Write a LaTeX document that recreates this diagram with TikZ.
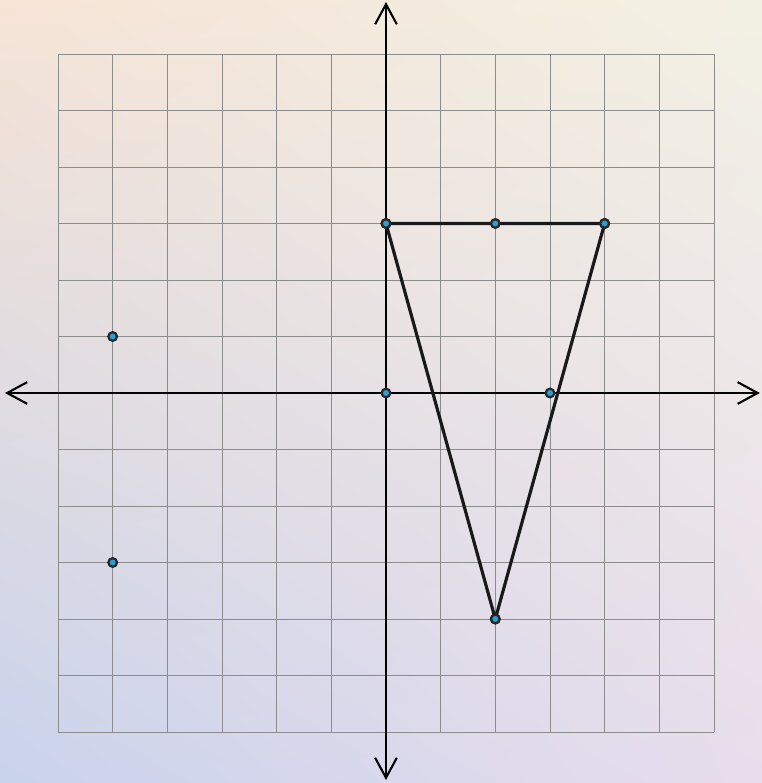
\documentclass[tikz,border=0pt]{standalone}
\usetikzlibrary{arrows.meta,shadings}

\definecolor{bgTL}{HTML}{F6E4D6}
\definecolor{bgTR}{HTML}{F3F1E4}
\definecolor{bgBL}{HTML}{C9D3EC}
\definecolor{bgBR}{HTML}{E8DDEC}
\definecolor{dotblue}{HTML}{2A9FD6}

\tikzset{
  gridline/.style={gray!90,line width=0.6pt},
  axisline/.style={line width=2.2pt,{Straight Barb[length=6mm,width=6.5mm,line width=1.8pt]}-{Straight Barb[length=6mm,width=6.5mm,line width=1.8pt]}},
  edge/.style={line width=2.7pt,line cap=round,line join=round,black!90},
  pt/.style={circle,draw=black!85,line width=1.9pt,fill=dotblue,inner sep=0pt,minimum size=7.4pt}
}

\begin{document}
\begin{tikzpicture}[x=1.64cm,y=1.695cm]
  % Фон и рамка рисунка
  \useasboundingbox (-7.061,-6.903) rectangle (6.878,6.956);
  \shade[upper left=bgTL,upper right=bgTR,lower left=bgBL,lower right=bgBR]
    (-7.061,-6.903) rectangle (6.878,6.956);

  % Сетка
  \foreach \i in {-6,...,6} {
    \draw[gridline] (\i,-6) -- (\i,6);
    \draw[gridline] (-6,\i) -- (6,\i);
  }

  % Оси координат
  \draw[axisline] (-6.97,0) -- (6.84,0);
  \draw[axisline] (0,-6.85) -- (0,6.92);

  % Вершины треугольника
  \node[pt] (A) at (0,3) {};
  \node[pt] (B) at (4,3) {};
  \node[pt] (C) at (2,-4) {};

  % Стороны треугольника
  \draw[edge] (A.center) -- (B.center) -- (C.center) -- cycle;
  \node[pt] at (A) {};
  \node[pt] at (B) {};
  \node[pt] at (C) {};

  % Отдельные точки
  \node[pt] (M) at (2,3) {};
  \node[pt] (O) at (0,0) {};
  \node[pt] (K) at (3,0) {};
  \node[pt] (P) at (-5,1) {};
  \node[pt] (Q) at (-5,-3) {};
\end{tikzpicture}
\end{document}
